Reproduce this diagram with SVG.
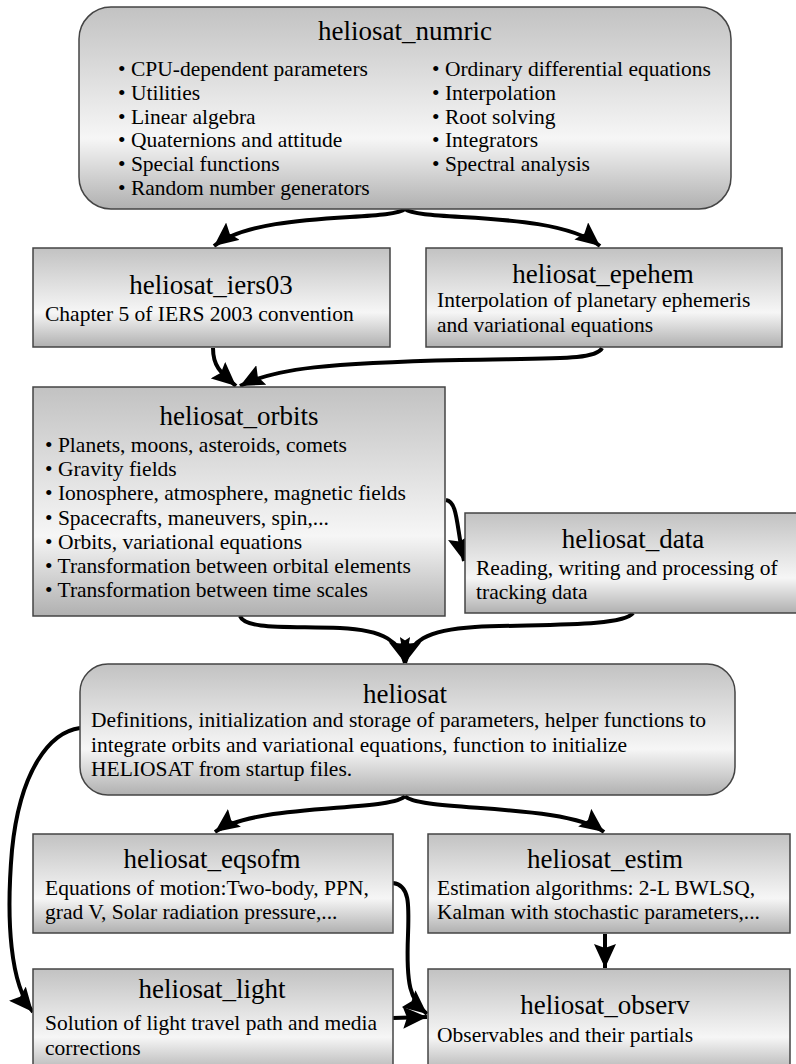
<svg xmlns="http://www.w3.org/2000/svg" width="796" height="1064" viewBox="0 0 796 1064">
<defs>
<linearGradient id="g" x1="0" y1="0" x2="0" y2="1">
<stop offset="0" stop-color="#c2c2c2"/>
<stop offset="0.65" stop-color="#f6f6f6"/>
<stop offset="1" stop-color="#b0b0b0"/>
</linearGradient>
<marker id="ah" markerUnits="userSpaceOnUse" markerWidth="26" markerHeight="22" refX="24" refY="11" orient="auto">
<path d="M0,0 L24,11 L0,22 L4,11 Z" fill="#000"/>
</marker>
<style>
.box{fill:url(#g);stroke:#444;stroke-width:1.5}
.t{font-family:"Liberation Serif","Times New Roman",serif;font-size:27px;fill:#000;text-anchor:middle}
.b{font-family:"Liberation Serif","Times New Roman",serif;font-size:21.5px;fill:#000}
.c{fill:none;stroke:#000;stroke-width:4;marker-end:url(#ah)}
</style>
</defs>
<rect width="796" height="1064" fill="#fff"/>

<g id="connectors">
<path class="c" d="M405,209 C390,222 260,210 214,246"/>
<path class="c" d="M405,209 C420,222 555,210 600,246"/>
<path class="c" d="M213,348 C213,366 220,372 236,386"/>
<path class="c" d="M602,348 C596,360 560,358 460,360 C330,363 275,368 240,386"/>
<path class="c" d="M446,500 C458,502 456,525 464,561"/>
<path class="c" d="M240,616 C245,630 290,626 340,628 C385,630 400,642 405,663"/>
<path class="c" d="M633,613 C623,627 540,624 475,627 C425,630 410,642 405,663"/>
<path class="c" d="M405,796 C392,812 255,803 215,832"/>
<path class="c" d="M405,796 C418,812 565,803 604,832"/>
<path class="c" d="M80,728 C50,732 20,770 12,850 C6,920 10,985 33,1012"/>
<path class="c" d="M393,883 C410,885 409,905 408,935 C406,985 410,1000 427,1014"/>
<path class="c" d="M393,1018 L427,1017"/>
<path class="c" d="M605,934 L605,968"/>
</g>

<g id="numric">
<rect class="box" x="79" y="7" width="652" height="202" rx="32"/>
<text class="t" x="405" y="40">heliosat_numric</text>
<text class="b" x="118" y="76">• CPU-dependent parameters</text>
<text class="b" x="118" y="99.8">• Utilities</text>
<text class="b" x="118" y="123.6">• Linear algebra</text>
<text class="b" x="118" y="147.4">• Quaternions and attitude</text>
<text class="b" x="118" y="171.2">• Special functions</text>
<text class="b" x="118" y="195">• Random number generators</text>
<text class="b" x="432" y="76">• Ordinary differential equations</text>
<text class="b" x="432" y="99.8">• Interpolation</text>
<text class="b" x="432" y="123.6">• Root solving</text>
<text class="b" x="432" y="147.4">• Integrators</text>
<text class="b" x="432" y="171.2">• Spectral analysis</text>
</g>

<g id="iers03">
<rect class="box" x="33" y="248" width="357" height="99"/>
<text class="t" x="211" y="294">heliosat_iers03</text>
<text class="b" x="45" y="321">Chapter 5 of IERS 2003 convention</text>
</g>

<g id="epehem">
<rect class="box" x="426" y="248" width="356" height="99"/>
<text class="t" x="603" y="283">heliosat_epehem</text>
<text class="b" x="437" y="307">Interpolation of planetary ephemeris</text>
<text class="b" x="437" y="332">and variational equations</text>
</g>

<g id="orbits">
<rect class="box" x="33" y="387" width="412" height="229"/>
<text class="t" x="239" y="425">heliosat_orbits</text>
<text class="b" x="45" y="452">• Planets, moons, asteroids, comets</text>
<text class="b" x="45" y="476.2">• Gravity fields</text>
<text class="b" x="45" y="500.4">• Ionosphere, atmosphere, magnetic fields</text>
<text class="b" x="45" y="524.6">• Spacecrafts, maneuvers, spin,...</text>
<text class="b" x="45" y="548.8">• Orbits, variational equations</text>
<text class="b" x="45" y="573">• Transformation between orbital elements</text>
<text class="b" x="45" y="597.2">• Transformation between time scales</text>
</g>

<g id="data">
<rect class="box" x="465" y="513" width="340" height="100"/>
<text class="t" x="633" y="548">heliosat_data</text>
<text class="b" x="476" y="575">Reading, writing and processing of</text>
<text class="b" x="476" y="599">tracking data</text>
</g>

<g id="heliosat">
<rect class="box" x="80" y="664" width="655" height="131" rx="28"/>
<text class="t" x="405" y="703">heliosat</text>
<text class="b" x="91" y="727">Definitions, initialization and storage of parameters, helper functions to</text>
<text class="b" x="91" y="752">integrate orbits and variational equations, function to initialize</text>
<text class="b" x="91" y="776">HELIOSAT from startup files.</text>
</g>

<g id="eqsofm">
<rect class="box" x="33" y="834" width="360" height="99"/>
<text class="t" x="212" y="868">heliosat_eqsofm</text>
<text class="b" x="45" y="895">Equations of motion:Two-body, PPN,</text>
<text class="b" x="45" y="919">grad V, Solar radiation pressure,...</text>
</g>

<g id="estim">
<rect class="box" x="428" y="834" width="362" height="99"/>
<text class="t" x="605" y="868">heliosat_estim</text>
<text class="b" x="437" y="895">Estimation algorithms: 2-L BWLSQ,</text>
<text class="b" x="437" y="919">Kalman with stochastic parameters,...</text>
</g>

<g id="light">
<rect class="box" x="33" y="969" width="360" height="105"/>
<text class="t" x="212" y="998">heliosat_light</text>
<text class="b" x="45" y="1030">Solution of light travel path and media</text>
<text class="b" x="45" y="1055">corrections</text>
</g>

<g id="observ">
<rect class="box" x="428" y="969" width="362" height="105"/>
<text class="t" x="605" y="1014">heliosat_observ</text>
<text class="b" x="437" y="1042">Observables and their partials</text>
</g>
</svg>
